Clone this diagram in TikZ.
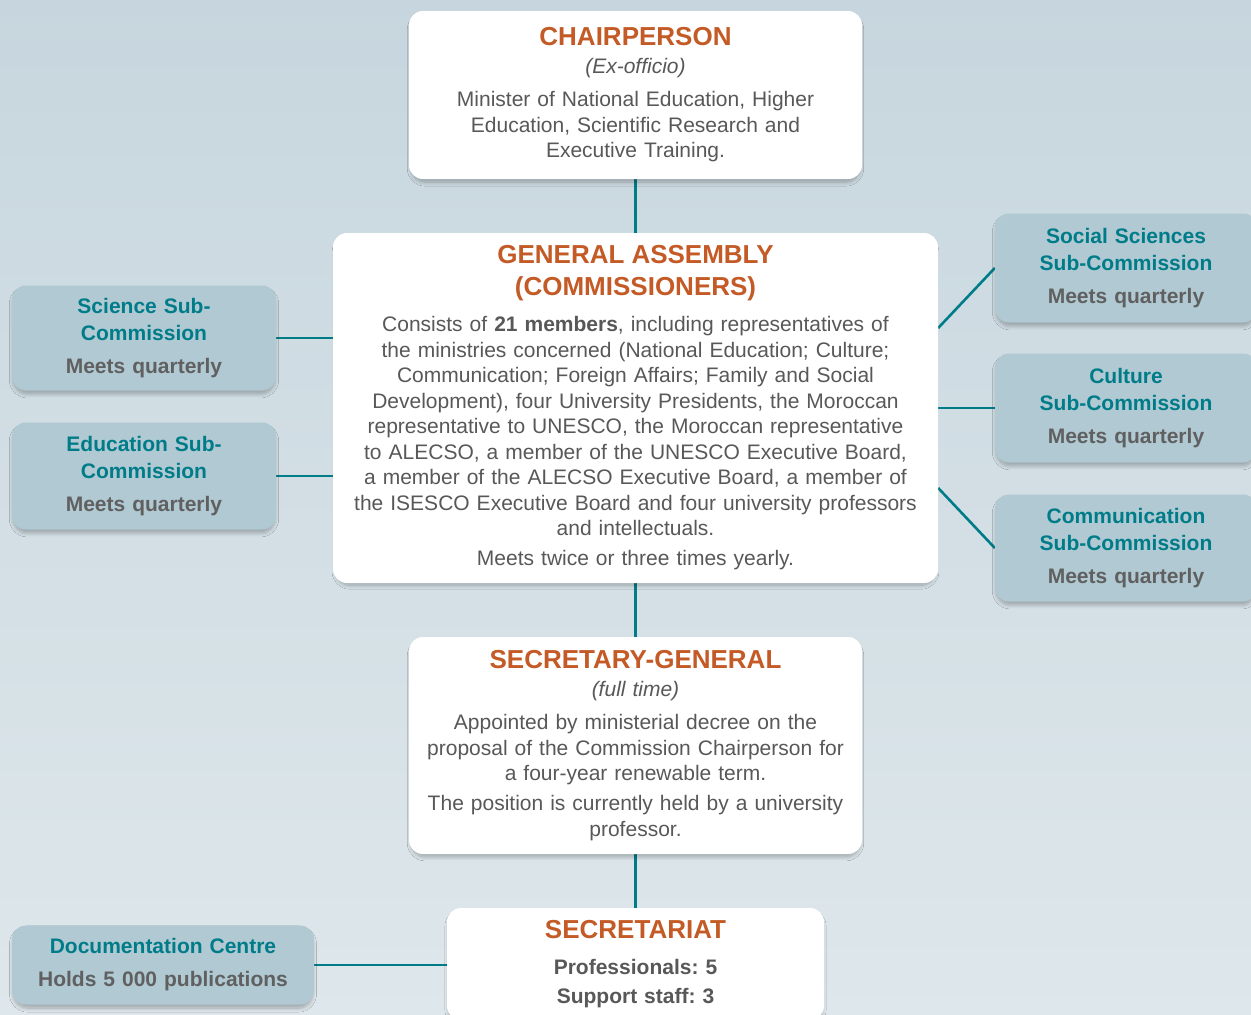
\documentclass[tikz,border=0pt]{standalone}
\usepackage{fontspec}
\setmainfont{Liberation Sans}
\usetikzlibrary{calc,backgrounds,shadows.blur}
\definecolor{linkteal}{RGB}{0,124,137}
\definecolor{headorange}{RGB}{196,90,38}
\definecolor{textgrey}{RGB}{88,88,88}
\definecolor{subgrey}{RGB}{96,96,96}
\definecolor{subfill}{RGB}{176,201,211}
\definecolor{bgtop}{RGB}{199,214,222}
\definecolor{bgbottom}{RGB}{222,231,235}
\newcommand\orghead[1]{{\color{headorange}\bfseries\fontsize{26}{30}\selectfont #1}}
\newcommand\subhead[1]{{\color{linkteal}#1}}
\frenchspacing
\begin{document}
\begin{tikzpicture}[x=1pt, y=-1pt,
    mainbox/.style={fill=white, rounded corners=14pt, inner sep=0pt,
      blur shadow={shadow xshift=0pt, shadow yshift=-4pt, shadow scale=0.99,
        shadow blur radius=4pt, shadow blur steps=10, shadow opacity=28},
      align=center, text=textgrey, font=\fontsize{21}{25.5}\selectfont},
    subbox/.style={mainbox, fill=subfill, text=subgrey,
      font=\bfseries\fontsize{21}{26.5}\selectfont},
    link/.style={draw=linkteal, line width=2.6pt}]
  \useasboundingbox (0,0) rectangle (1251,1015);
  \clip (0,0) rectangle (1251,1015);

  % central column
  \node[mainbox, minimum width=453pt, minimum height=168pt, text width=430pt] (chair) at (635.5,95)
    {\orghead{CHAIRPERSON}\\[2.5pt]
     \textit{(Ex-officio)}\\[7.5pt]
     Minister of National Education, Higher\\
     Education, Scientific Research and\\
     Executive Training.};
  \node[mainbox, minimum width=605pt, minimum height=350pt, text width=590pt] (assembly) at (635.5,408)
    {\orghead{GENERAL ASSEMBLY}\\[6.5pt]
     \orghead{(COMMISSIONERS)}\\[10.5pt]
     Consists of \textbf{21 members}, including representatives of\\
     the ministries concerned (National Education; Culture;\\
     Communication; Foreign Affairs; Family and Social\\
     Development), four University Presidents, the Moroccan\\
     representative to UNESCO, the Moroccan representative\\
     to ALECSO, a member of the UNESCO Executive Board,\\
     a member of the ALECSO Executive Board, a member of\\
     the ISESCO Executive Board and four university professors\\
     and intellectuals.\\[4.5pt]
     Meets twice or three times yearly.};
  \node[mainbox, minimum width=453pt, minimum height=217pt, text width=440pt] (secgen) at (635.5,745.5)
    {\orghead{SECRETARY-GENERAL}\\[2.5pt]
     \textit{(full time)}\\[7.5pt]
     Appointed by ministerial decree on the\\
     proposal of the Commission Chairperson for\\
     a four-year renewable term.\\[4.5pt]
     The position is currently held by a university\\
     professor.};
  \node[mainbox, minimum width=377pt, minimum height=112pt, text width=360pt,
        font=\bfseries\fontsize{21}{25.5}\selectfont] (secretariat) at (635.5,964)
    {\orghead{SECRETARIAT}\\[10.5pt]
     Professionals: 5\\[3.5pt]
     Support staff: 3};

  % sub-commissions
  \node[subbox, minimum width=264pt, minimum height=105pt, text width=250pt] (science) at (144,338)
    {\subhead{Science Sub-}\\ \subhead{Commission}\\[6.5pt] Meets quarterly};
  \node[subbox, minimum width=264pt, minimum height=107pt, text width=250pt] (education) at (144,476)
    {\subhead{Education Sub-}\\ \subhead{Commission}\\[6.5pt] Meets quarterly};
  \node[subbox, minimum width=262pt, minimum height=109pt, text width=250pt] (social) at (1126,268)
    {\subhead{Social Sciences}\\ \subhead{Sub-Commission}\\[6.5pt] Meets quarterly};
  \node[subbox, minimum width=262pt, minimum height=109pt, text width=250pt] (culture) at (1126,408)
    {\subhead{Culture}\\ \subhead{Sub-Commission}\\[6.5pt] Meets quarterly};
  \node[subbox, minimum width=262pt, minimum height=107pt, text width=250pt] (communication) at (1126,548)
    {\subhead{Communication}\\ \subhead{Sub-Commission}\\[6.5pt] Meets quarterly};
  \node[subbox, minimum width=302pt, minimum height=79pt, text width=290pt] (documentation) at (163,965)
    {\subhead{Documentation Centre}\\[6.5pt] Holds 5 000 publications};

  \coordinate (assemblyup) at ($(assembly.east)+(0,-80)$);
  \coordinate (assemblydown) at ($(assembly.east)+(0,80)$);

  \begin{scope}[on background layer]
    \shade[top color=bgtop, bottom color=bgbottom] (0,0) rectangle (1251,1015);
    \draw[link] (chair) -- (assembly);
    \draw[link] (assembly) -- (secgen);
    \draw[link] (secgen) -- (secretariat);
    \draw[link] (science.east) -- (science.east -| assembly.west);
    \draw[link] (education.east) -- (education.east -| assembly.west);
    \draw[link] (assemblyup) -- (social.west);
    \draw[link] (assembly.east) -- (culture.west);
    \draw[link] (assemblydown) -- (communication.west);
    \draw[link] (documentation.east) -- (documentation.east -| secretariat.west);
  \end{scope}
\end{tikzpicture}
\end{document}
